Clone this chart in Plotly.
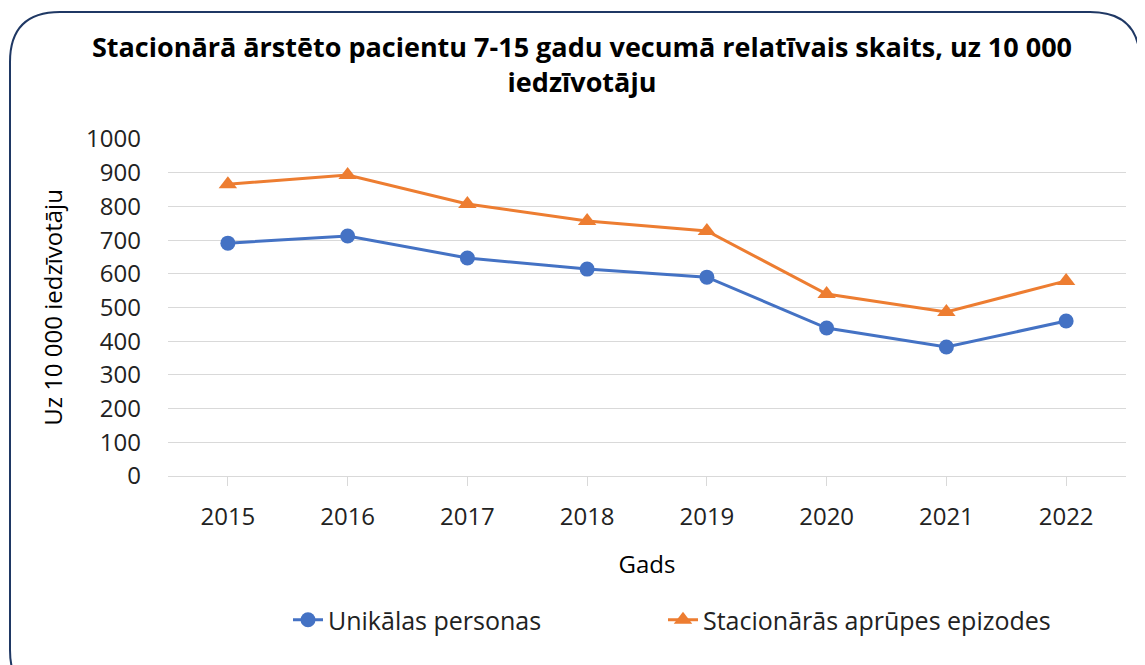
import plotly.graph_objects as go

years = ["2015", "2016", "2017", "2018", "2019", "2020", "2021", "2022"]
unikalas = [691, 712, 647, 614, 590, 439, 383, 460]
epizodes = [866, 893, 807, 757, 727, 540, 487, 579]
yticks = [0, 100, 200, 300, 400, 500, 600, 700, 800, 900, 1000]

OFF = 8  # page body margin
W, H = 1145 - OFF, 665 - OFF
# plot area in screen coordinates
SL, SR, ST, SB = 168, 1126, 139, 476
L, R, T, B = SL - OFF, SR - OFF, ST - OFF, SB - OFF
FONT = "Open Sans"

def px(x):  # screen x -> paper
    return (x - SL) / (SR - SL)

def py(y):  # screen y -> paper
    return (SB - y) / (SB - ST)

xs = list(range(len(years)))

fig = go.Figure()
fig.add_trace(go.Scatter(
    x=xs, y=unikalas, name="Unikālas personas", mode="lines+markers",
    line=dict(color="#4472C4", width=3),
    marker=dict(symbol="circle", size=15, color="#4472C4"),
    legend="legend",
))
fig.add_trace(go.Scatter(
    x=xs, y=epizodes, name="Stacionārās aprūpes epizodes", mode="lines+markers",
    line=dict(color="#ED7D31", width=3),
    marker=dict(symbol="triangle-up", size=16, color="#ED7D31"),
    legend="legend2",
))

# rounded border (screen coordinates)
x0, y0, x1, y1, r = 10, 12, 1140, 700, 50
path = (f"M {px(x0)},{py(y0 + r)} "
        f"Q {px(x0)},{py(y0)} {px(x0 + r)},{py(y0)} "
        f"L {px(x1 - r)},{py(y0)} "
        f"Q {px(x1)},{py(y0)} {px(x1)},{py(y0 + r)} "
        f"L {px(x1)},{py(y1 - r)} "
        f"Q {px(x1)},{py(y1)} {px(x1 - r)},{py(y1)} "
        f"L {px(x0 + r)},{py(y1)} "
        f"Q {px(x0)},{py(y1)} {px(x0)},{py(y1 - r)} Z")
fig.add_shape(type="path", path=path, xref="paper", yref="paper",
              line=dict(color="#1F3864", width=2), layer="below")

legend_font = dict(size=25, family=FONT, color="#222")
fig.update_layout(
    width=W, height=H,
    margin=dict(l=L, r=W - R, t=T, b=H - B),
    paper_bgcolor="white", plot_bgcolor="white",
    font=dict(family=FONT, color="#000000"),
    title=dict(
        text="<b>Stacionārā ārstēto pacientu 7-15 gadu vecumā relatīvais skaits, uz 10 000<br>iedzīvotāju</b>",
        x=(582 - OFF) / W, xref="container", xanchor="center",
        y=1 - (57 - OFF) / H, yref="container", yanchor="middle",
        font=dict(size=27, family=FONT, color="#000000"),
    ),
    showlegend=True,
    legend=dict(orientation="h", x=px(288), xanchor="left", xref="paper",
                y=py(620), yanchor="middle", font=legend_font),
    legend2=dict(orientation="h", x=px(663), xanchor="left", xref="paper",
                 y=py(620), yanchor="middle", font=legend_font),
)
fig.update_xaxes(
    range=[-0.5, 7.5], tickmode="array", tickvals=xs, ticktext=years,
    showgrid=False, zeroline=False, showline=True, linecolor="#d9d9d9", linewidth=1,
    ticks="outside", ticklen=9, tickcolor="#d9d9d9", tickson="boundaries",
    tickfont=dict(size=24, color="#222"), ticklabelstandoff=10,
    title=dict(text="Gads", font=dict(size=24, color="#000"), standoff=25),
)
fig.update_yaxes(
    range=[0, 1000], tickmode="array", tickvals=yticks,
    showgrid=True, gridcolor="#d9d9d9", gridwidth=1, zeroline=False,
    showline=False, ticks="", tickfont=dict(size=24, color="#222"),
    ticklabelstandoff=26,
    title=dict(text="Uz 10 000 iedzīvotāju", font=dict(size=24, color="#000"), standoff=16),
)
fig.write_html("out.html")
